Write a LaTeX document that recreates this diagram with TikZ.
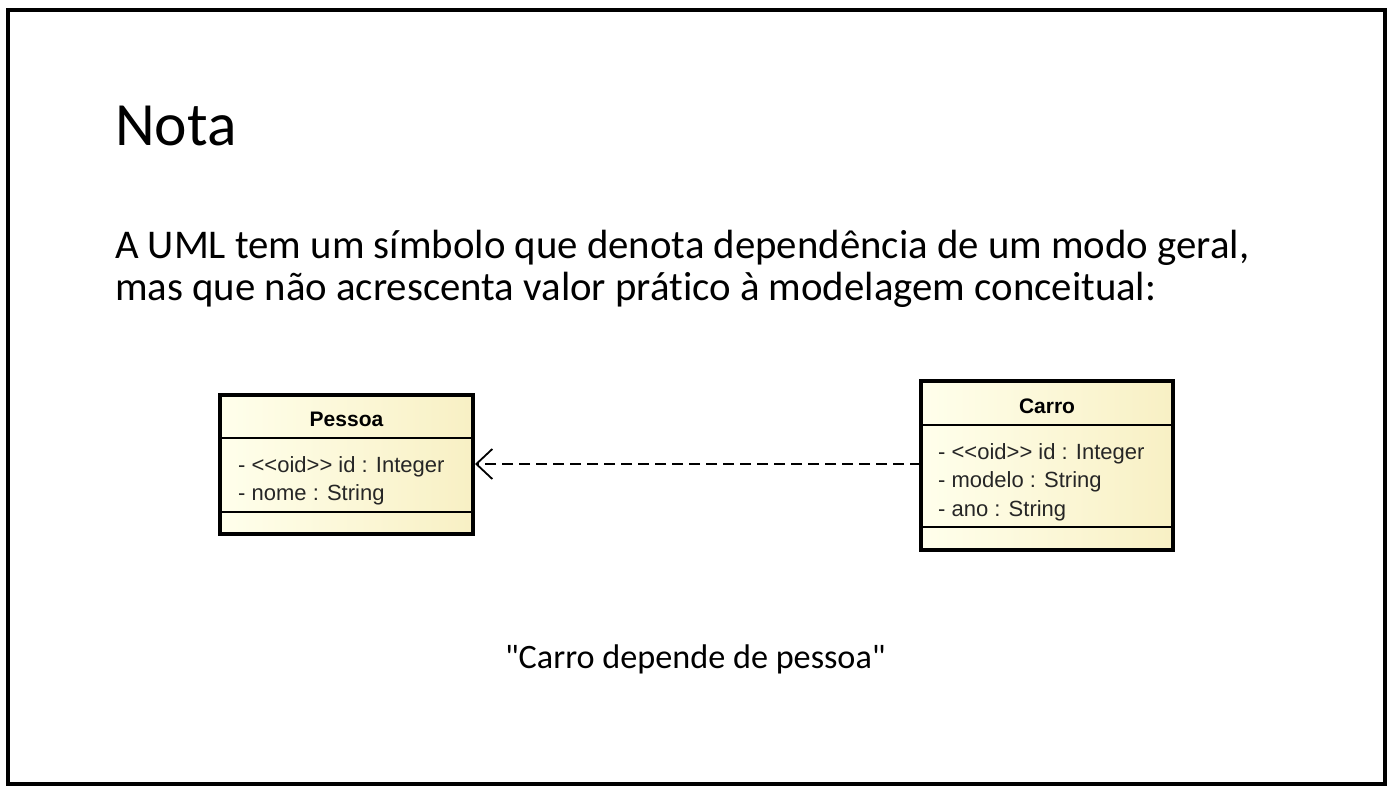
\documentclass[tikz,border=0pt]{standalone}
\usepackage{fontspec}
\setmainfont{Carlito}[Ligatures={TeXOff,NoCommon}]
\newfontfamily\umlfont{Liberation Sans}
\usetikzlibrary{arrows.meta}
\definecolor{umlL}{RGB}{255,255,236}
\definecolor{umlR}{RGB}{248,240,196}
\tikzset{
  txt/.style={anchor=base west, inner sep=0pt, outer sep=0pt},
  umlbox/.style={draw=black, line width=4pt, left color=umlL, right color=umlR},
  umlsep/.style={draw=black, line width=1.2pt},
  umlname/.style={font=\umlfont\bfseries\fontsize{21}{24}\selectfont, inner sep=0pt, anchor=base},
  umlattr/.style={font=\umlfont\fontsize{22}{26}\selectfont, color=black!85, inner sep=0pt, anchor=base west},
  dep/.style={dashed, dash pattern=on 11pt off 6pt, line width=1.8pt, -{Straight Barb[length=16pt, width=30pt, line width=1.8pt]}}
}
\begin{document}
\begin{tikzpicture}[x=1pt, y=-1pt]
\useasboundingbox (0,0) rectangle (1397,792);
\draw[line width=4pt] (7.5,10) rectangle (1385,784);

\node[txt, font=\fontsize{61.5}{66}\selectfont] (title) at (115,145) {Nota};
\node[txt, font=\fontsize{40.8}{46}\selectfont] (l1) at (115,258) {A UML tem um símbolo que denota dependência de um modo geral,};
\node[txt, font=\fontsize{40.8}{46}\selectfont] (l2) at (115,300) {mas que não acrescenta valor prático à modelagem conceitual:};
\node[txt, font=\fontsize{34.2}{40}\selectfont] (cap) at (505,668) {"Carro depende de pessoa"};

% Pessoa
\path[umlbox] (220,395) rectangle (473,534);
\coordinate (pR) at (473,464);
\draw[umlsep] (220,438) -- (473,438);
\draw[umlsep] (220,512) -- (473,512);
\node[umlname] (pname) at (346.5,426.5) {Pessoa};
\node[umlattr] (pa1) at (238,472) {- <<oid>> id : Integer};
\node[umlattr] (pa2) at (238,500) {- nome : String};

% Carro
\path[umlbox] (921,381) rectangle (1173,550);
\coordinate (cL) at (921,464);
\draw[umlsep] (921,425) -- (1173,425);
\draw[umlsep] (921,527) -- (1173,527);
\node[umlname] (cname) at (1047,413) {Carro};
\node[umlattr] (ca1) at (938,459) {- <<oid>> id : Integer};
\node[umlattr] (ca2) at (938,487) {- modelo : String};
\node[umlattr] (ca3) at (938,516) {- ano : String};

\draw[dep] (cL) -- ([xshift=2pt]pR);
\end{tikzpicture}
\end{document}
